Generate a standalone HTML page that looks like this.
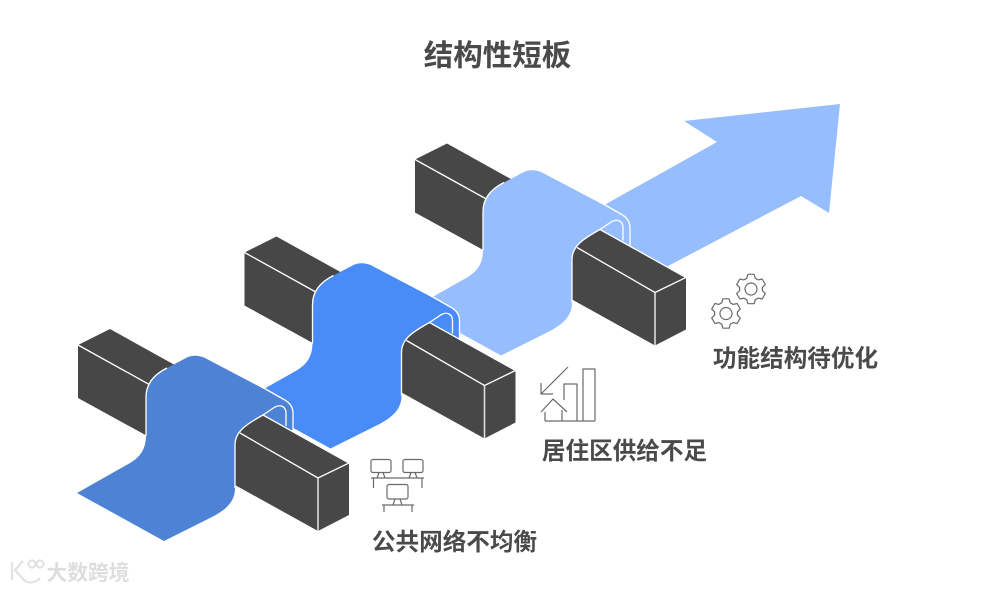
<!DOCTYPE html>
<html><head><meta charset="utf-8">
<style>
html,body{margin:0;padding:0;background:#fff;width:984px;height:591px;overflow:hidden}
svg{display:block}
text{font-family:"Liberation Sans","Noto Sans CJK SC",sans-serif;font-weight:700;fill:#4a4a4a;text-anchor:middle}
.l{fill:none;stroke:#fff;stroke-width:1.3}
.ic{fill:none;stroke:#6a6a6a;stroke-width:1.2;stroke-linejoin:round}
</style></head>
<body>
<svg width="984" height="591" viewBox="0 0 984 591" xmlns="http://www.w3.org/2000/svg">
<defs>
<g id="rear"><path d="M110,329 L200,379 L200,465 L78,398 L78,345 Z" fill="#474747"/><path d="M78,345 L152,386" class="l"/></g>
<path id="rib" d="M77,493 L164,541 L210,518 C226,510 235,502 235,488 L235,445 L293,432 L293,413 C293,406 289,402 283,399 L205,358 C199,355 191,355 186,358 L167,368 C153,375 146,385 146,397 L146,435 C146,447 142,456 130,463 Z"/>
<path id="ribedge" d="M262,387 L283,399 C289,402 293,406 293,413 L293,432 M167,368 C153,375 146,385 146,397 L146,436" class="l"/>
<g id="front">
<path d="M286,426 L286,413 C286,407 281,404 275,407 L263,415" class="l"/>
<path d="M263,415 L349,463 L349,515 L318,531 L235,485 L235,445 C235,432 245,425 263,415 Z" fill="#474747"/>
<path d="M235,488 L235,445 C235,432 245,425 263,415 L349,463 L318,478 L240,433" class="l"/>
<path d="M318,478 L318,531" fill="none" stroke="#ddd" stroke-width="1.6"/>
</g>
<path id="gear" d="M-4.3,-10.7 L-3.1,-14.7 L3.1,-14.7 L4.3,-10.7 L7.1,-9.1 L11.1,-10 L14.3,-4.6 L11.4,-1.6 L11.4,1.6 L14.3,4.6 L11.1,10 L7.1,9.1 L4.3,10.7 L3.1,14.7 L-3.1,14.7 L-4.3,10.7 L-7.1,9.1 L-11.1,10 L-14.3,4.6 L-11.4,1.6 L-11.4,-1.6 L-14.3,-4.6 L-11.1,-10 L-7.1,-9.1 Z"/>
</defs>

<text x="497.5" y="65.5" font-size="29.5">结构性短板</text>

<!-- stage 3 and arrow -->
<path d="M590,213 L717,142 L684,121 L840,104 L829,213 L801,196 L670,265 L640,281 Z" fill="#96bdfd"/>
<g transform="translate(337,-185.5)">
<use href="#rear"/><use href="#rib" fill="#96bdfd"/><use href="#ribedge"/><use href="#front"/>
</g>
<!-- stage 2 -->
<g transform="translate(166.5,-92.5)">
<use href="#rear"/><use href="#rib" fill="#4a8cf7"/><use href="#ribedge"/><use href="#front"/>
</g>
<!-- stage 1 -->
<g>
<use href="#rear"/><use href="#rib" fill="#4e82d5"/><use href="#ribedge"/><use href="#front"/>
</g>

<!-- icon: monitors -->
<g class="ic">
<rect x="371" y="459.5" width="20" height="13" rx="2"/>
<rect x="403" y="459.5" width="20" height="13" rx="2"/>
<rect x="387" y="484.5" width="21" height="14.5" rx="2"/>
<path d="M371,478 H424 M373.5,478 V488 M422,478 V488 M379,472.5 L377,478 M383,472.5 L385,478 M411,472.5 L409,478 M415,472.5 L417,478"/>
<path d="M382,505 H414 M384,505 V512 M412,505 V512 M395,499 L393,505 M400,499 L402,505"/>
</g>
<!-- icon: chart/house -->
<g class="ic">
<path d="M583,421 V369 H595 V421 M564,400 V384 H577 V421 M545,421 H595"/>
<path d="M545,412 V421 M562,410 V421 M541,412 L553,399 L567,412"/>
<path d="M568,367 L541,394 M541,383 V394 H553"/>
</g>
<!-- icon: gears -->
<g class="ic">
<use href="#gear" x="751" y="289"/><circle cx="751" cy="289" r="6"/>
<use href="#gear" x="726" y="313.5"/><circle cx="726" cy="313.5" r="6"/>
</g>

<text x="454.5" y="550" font-size="23.6">公共网络不均衡</text>
<text x="624.5" y="459" font-size="23.6">居住区供给不足</text>
<text x="795.5" y="366.5" font-size="23.6">功能结构待优化</text>

<!-- watermark -->
<g fill="none" stroke="#e2e2e2" stroke-width="2.2">
<path d="M12,562 V580 M23,561 L15,570 L24,580 C28,584 36,583 40,578"/>
<circle cx="32" cy="564" r="3.5"/><circle cx="40" cy="564" r="3.5"/>
</g>
<text x="88" y="580" font-size="20.8" style="fill:#dedede">大数跨境</text>
</svg>
</body></html>
